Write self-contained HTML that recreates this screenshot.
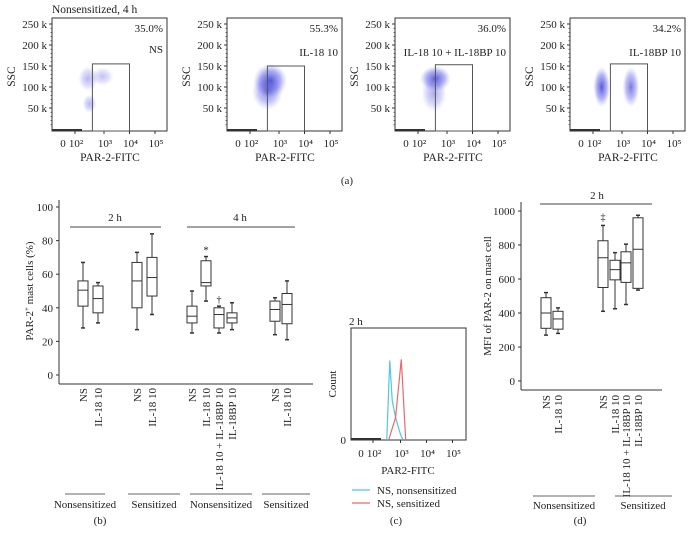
<!DOCTYPE html>
<html><head><meta charset="utf-8">
<style>
html,body{margin:0;padding:0;background:#fff;}
svg{display:block;font-family:"Liberation Serif",serif;}
</style></head>
<body>
<svg id="fig" width="694" height="544" viewBox="0 0 694 544" xmlns="http://www.w3.org/2000/svg"></svg>
<script>
// ---------- Panel (a) data ----------
const flowTitles = ["NS","IL-18 10","IL-18 10 + IL-18BP 10","IL-18BP 10"];
const flowPercents = ["35.0%","55.3%","36.0%","34.2%"];
const flowLefts = [52,227,395,570];
const flowYTicks = [50,100,150,200,250];
const flowXTickLabels = ["10\u00b2","10\u00b3","10\u2074","10\u2075"];
const flowXTickDecades = [2,3,4,5];
const gateLow = [2.6,2.6,2.6,2.6];
const gateHigh = [4,4,4,4];
const gateTop = [155,150,153,155];
// cluster: plot index, log x center, ssc center (k), x spread (decades), y spread (k), opacity
const clusterPlot = [0,0,0,1,1,2,2,3,3];
const clusterX = [2.45,2.95,2.5,2.7,2.6,2.6,2.55,2.3,3.35];
const clusterY = [120,125,60,115,90,120,85,100,100];
const clusterSX = [0.35,0.4,0.25,0.6,0.55,0.55,0.45,0.3,0.3];
const clusterSY = [30,22,22,40,45,30,45,48,48];
const clusterOp = [0.35,0.3,0.35,0.85,0.6,0.8,0.4,0.8,0.65];

// ---------- Panel (b) data ----------
const bCats = ["NS","IL-18 10","NS","IL-18 10","NS","IL-18 10","IL-18 10 + IL-18BP 10","IL-18BP 10","NS","IL-18 10"];
const bX = [83,98,137,152,192,206,219,232,275,287];
const bMax = [67,55,73,84,50,70.5,41,43,46,56];
const bQ3 = [56,53,67,70,41,68,40,37,44,48.5];
const bMed = [50.5,45.5,56,58,35,55,36,34,39,42];
const bQ1 = [41,37,40,47,31,53,28,31,32,30.5];
const bMin = [28,31,27,36,25,44,25,27,24,21];
const bTicks = [0,20,40,60,80,100];

// ---------- Panel (c) data ----------
const cCyanX = [2.5,2.61,2.7,2.82,3.0,3.1];
const cCyanY = [0,71,35,20,5,0];
const cRedX = [2.57,2.82,3.03,3.2];
const cRedY = [0,20,72,0];

// ---------- Panel (d) data ----------
const dCats = ["NS","IL-18 10","NS","IL-18 10","IL-18 10 + IL-18BP 10","IL-18BP 10"];
const dX = [546,558,603,615,626,638];
const dMax = [520,430,915,755,805,975];
const dQ3 = [490,410,825,710,760,960];
const dMed = [400,365,725,655,695,775];
const dQ1 = [310,305,550,595,580,545];
const dMin = [270,280,410,425,450,535];
const dTicks = [0,200,400,600,800,1000];

const NS="http://www.w3.org/2000/svg";
const svg=document.getElementById('fig');
function el(tag,attrs,parent,text){
  const e=document.createElementNS(NS,tag);
  for(const k in attrs)e.setAttribute(k,attrs[k]);
  if(text!==undefined)e.textContent=text;
  (parent||svg).appendChild(e);return e;
}
function line(x1,y1,x2,y2,stroke,w,parent){return el('line',{x1,y1,x2,y2,stroke:stroke||'#222','stroke-width':w||1},parent);}

const defs=el('defs',{});
const rg=el('radialGradient',{id:'cl'},defs);
el('stop',{offset:'0','stop-color':'#3030d0','stop-opacity':'1'},rg);
el('stop',{offset:'0.6','stop-color':'#6060e8','stop-opacity':'0.6'},rg);
el('stop',{offset:'1','stop-color':'#9090ff','stop-opacity':'0'},rg);

// ---------- Panel (a) ----------
const fTop=18,fBot=131,fW=115,fY0=129,fPerK=21/50;
function fx(i,d){
  const L=flowLefts[i];
  if(d<=3)return L+23+(d-2)*29;
  return L+52+(d-3)*25.5;
}
function fy(k){return fY0-k*fPerK;}
for(let i=0;i<4;i++){
  const g=el('g',{});
  
  
  const L=flowLefts[i];
  for(let c=0;c<clusterPlot.length;c++){
    if(clusterPlot[c]!==i)continue;
    const e=el('ellipse',{cx:fx(i,clusterX[c]),cy:fy(clusterY[c]),rx:clusterSX[c]*28,ry:clusterSY[c]*fPerK,fill:'url(#cl)',opacity:clusterOp[c]},g);
    
    
  }
  el('rect',{x:L,y:fTop,width:fW,height:fBot-fTop,fill:'none',stroke:'#333','stroke-width':1},g);
  const gate=el('rect',{x:fx(i,gateLow[i]),y:fy(gateTop[i]),width:fx(i,gateHigh[i])-fx(i,gateLow[i]),height:fBot-fy(gateTop[i]),fill:'none',stroke:'#555','stroke-width':1},g);
  
  
  flowYTicks.forEach(t=>{
    line(L-3,fy(t),L,fy(t),'#333',1,g);
    el('text',{x:L-5,y:fy(t)+4,'font-size':'11','text-anchor':'end',fill:'#222'},g,t+' k');
  });
  for(let t=10;t<250;t+=10){line(L-1.5,fy(t),L,fy(t),'#333',0.7,g);}
  el('text',{x:L+11,y:fBot+16,'font-size':'11','text-anchor':'middle',fill:'#222'},g,'0');
  flowXTickDecades.forEach((d,j)=>{
    line(fx(i,d),fBot,fx(i,d),fBot+3,'#333',1,g);
    el('text',{x:fx(i,d)+1,y:fBot+16,'font-size':'11','text-anchor':'middle',fill:'#222'},g,flowXTickLabels[j]);
  });
  line(L,fBot-1,L+30,fBot-1,'#333',2,g);
  const xt=el('text',{x:L+58,y:161,'font-size':'11.5','text-anchor':'middle',fill:'#222'},g,'PAR-2-FITC');
  
  
  const yt=el('text',{x:0,y:0,'font-size':'11.5','text-anchor':'middle',fill:'#222',transform:`translate(${L-37},${fy(125)}) rotate(-90)`},g,'SSC');
  
  
  el('text',{x:L+fW-4,y:32,'font-size':'11','text-anchor':'end',fill:'#222'},g,flowPercents[i]);
  el('text',{x:L+fW-4,y:i==0?53:56,'font-size':'11','text-anchor':'end',fill:'#222'},g,flowTitles[i]);
}
el('text',{x:52,y:13,'font-size':'11.5',fill:'#222'},svg,'Nonsensitized, 4 h');
el('text',{x:347,y:184,'font-size':'11','text-anchor':'middle',fill:'#222'},svg,'(a)');

function boxes(xs,mx,q3,md,q1,mn,ys,name){
  for(let i=0;i<xs.length;i++){
    const g=el('g',{});
    
    
    const x=xs[i],w=10;
    line(x,ys(mx[i]),x,ys(q3[i]),'#333',1,g);
    line(x,ys(q1[i]),x,ys(mn[i]),'#333',1,g);
    line(x-2,ys(mx[i]),x+2,ys(mx[i]),'#333',1.5,g);
    line(x-2,ys(mn[i]),x+2,ys(mn[i]),'#333',1.5,g);
    el('rect',{x:x-w/2,y:ys(q3[i]),width:w,height:ys(q1[i])-ys(q3[i]),fill:'#fff',stroke:'#333','stroke-width':1},g);
    line(x-w/2,ys(md[i]),x+w/2,ys(md[i]),'#333',1,g);
  }
}

// ---------- Panel (b) ----------
const bY0=375,bPer=168/100,bAxisX=59,bAxisY=384;
const by=v=>bY0-v*bPer;
line(bAxisX,200,bAxisX,bAxisY,'#333',1);
line(bAxisX,bAxisY,313,bAxisY,'#333',1);
bTicks.forEach(t=>{
  line(bAxisX-3,by(t),bAxisX,by(t),'#333',1);
  el('text',{x:bAxisX-6,y:by(t)+4,'font-size':'11','text-anchor':'end',fill:'#222'},svg,t);
});
const bt=el('text',{x:0,y:0,'font-size':'11','text-anchor':'middle',fill:'#222',transform:`translate(33,${by(50)}) rotate(-90)`},svg);


bt.innerHTML='PAR-2<tspan font-size="7" dy="-4">+</tspan><tspan dy="4"> mast cells (%)</tspan>';
boxes(bX,bMax,bQ3,bMed,bQ1,bMin,by,'b');
line(70,227,161,227,'#444',1);
el('text',{x:115,y:221,'font-size':'11','text-anchor':'middle',fill:'#222'},svg,'2 h');
line(187,227,295,227,'#444',1);
el('text',{x:240,y:221,'font-size':'11','text-anchor':'middle',fill:'#222'},svg,'4 h');
el('text',{x:bX[5],y:by(bMax[5])-3,'font-size':'11','text-anchor':'middle',fill:'#222'},svg,'*');
el('text',{x:bX[6],y:by(bMax[6])-3,'font-size':'10','text-anchor':'middle',fill:'#222'},svg,'\u2020');
bCats.forEach((c,i)=>{
  el('text',{x:0,y:0,'font-size':'11','text-anchor':'end',fill:'#222',transform:`translate(${bX[i]+4},388) rotate(-90)`},svg,c);
});
[[65,105,'Nonsensitized',85],[128,180,'Sensitized',154],[190,252,'Nonsensitized',221],[262,310,'Sensitized',286]].forEach(a=>{
  line(a[0],494,a[1],494,'#666',1);
  el('text',{x:a[3],y:508,'font-size':'11','text-anchor':'middle',fill:'#222'},svg,a[2]);
});
el('text',{x:100,y:524,'font-size':'11','text-anchor':'middle',fill:'#222'},svg,'(b)');

// ---------- Panel (c) ----------
const cL=351,cT=328,cR=466,cB=440;
const cx=d=>d<=3?373+(d-2)*27.5:400.5+(d-3)*26;
const cy=v=>cB-v*(cB-cT)/100;
el('rect',{x:cL,y:cT,width:cR-cL,height:cB-cT,fill:'none',stroke:'#333','stroke-width':1});
el('text',{x:349,y:325,'font-size':'11',fill:'#222'},svg,'2 h');
const ct=el('text',{x:0,y:0,'font-size':'11','text-anchor':'middle',fill:'#222',transform:`translate(336,384) rotate(-90)`},svg,'Count');


el('text',{x:346,y:444,'font-size':'11','text-anchor':'end',fill:'#222'},svg,'0');
line(cL,cB-1,cL+30,cB-1,'#333',2);
el('text',{x:361,y:457,'font-size':'11','text-anchor':'middle',fill:'#222'},svg,'0');
flowXTickDecades.forEach((d,j)=>{
  line(cx(d),cB,cx(d),cB+3,'#333',1);
  el('text',{x:cx(d)+1,y:457,'font-size':'11','text-anchor':'middle',fill:'#222'},svg,flowXTickLabels[j]);
});
el('text',{x:408,y:474,'font-size':'11','text-anchor':'middle',fill:'#222'},svg,'PAR2-FITC');
const cyanP=el('polyline',{points:cCyanX.map((x,i)=>cx(x)+','+cy(cCyanY[i])).join(' '),fill:'none',stroke:'#4fc8e0','stroke-width':1.2});


const redP=el('polyline',{points:cRedX.map((x,i)=>cx(x)+','+cy(cRedY[i])).join(' '),fill:'none',stroke:'#e86a6a','stroke-width':1.2});


const lg1=el('g',{});


line(352,490,370,490,'#4fc8e0',1.2,lg1);
el('text',{x:377,y:494,'font-size':'11',fill:'#222'},lg1,'NS, nonsensitized');
const lg2=el('g',{});


line(352,503,370,503,'#e86a6a',1.2,lg2);
el('text',{x:377,y:507,'font-size':'11',fill:'#222'},lg2,'NS, sensitized');
el('text',{x:396,y:524,'font-size':'11','text-anchor':'middle',fill:'#222'},svg,'(c)');

// ---------- Panel (d) ----------
const dY0=381,dPer=170/1000,dAxisX=521,dAxisY=390;
const dy=v=>dY0-v*dPer;
line(dAxisX,202,dAxisX,dAxisY,'#333',1);
line(dAxisX,dAxisY,662,dAxisY,'#333',1);
dTicks.forEach(t=>{
  line(dAxisX-3,dy(t),dAxisX,dy(t),'#333',1);
  el('text',{x:dAxisX-6,y:dy(t)+4,'font-size':'11','text-anchor':'end',fill:'#222'},svg,t);
});
const dt=el('text',{x:0,y:0,'font-size':'11','text-anchor':'middle',fill:'#222',transform:`translate(491,${dy(500)}) rotate(-90)`},svg,'MFI of PAR-2 on mast cell');


boxes(dX,dMax,dQ3,dMed,dQ1,dMin,dy,'d');
line(540,204,652,204,'#444',1);
el('text',{x:597,y:199,'font-size':'11','text-anchor':'middle',fill:'#222'},svg,'2 h');
el('text',{x:dX[2],y:dy(dMax[2])-5,'font-size':'10','text-anchor':'middle',fill:'#222'},svg,'\u2021');
dCats.forEach((c,i)=>{
  el('text',{x:0,y:0,'font-size':'11','text-anchor':'end',fill:'#222',transform:`translate(${dX[i]+4},395) rotate(-90)`},svg,c);
});
[[533,595,'Nonsensitized',564],[615,672,'Sensitized',643]].forEach(a=>{
  line(a[0],496,a[1],496,'#666',1);
  el('text',{x:a[3],y:509,'font-size':'11','text-anchor':'middle',fill:'#222'},svg,a[2]);
});
el('text',{x:580,y:524,'font-size':'11','text-anchor':'middle',fill:'#222'},svg,'(d)');
</script>
</body></html>
